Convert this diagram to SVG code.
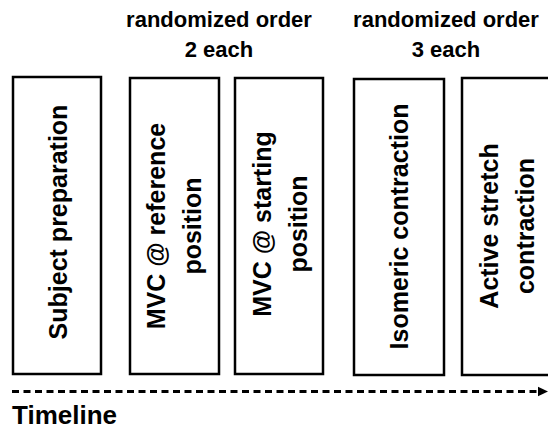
<svg xmlns="http://www.w3.org/2000/svg" width="548" height="429" viewBox="0 0 548 429">
  <style>
    .box { fill: #ffffff; stroke: #000000; stroke-width: 2.5; }
    .lbl { font-family: "Liberation Sans", Arial, sans-serif; font-weight: bold; font-size: 25px; fill: #000000; text-anchor: middle; }
    .hdr { font-family: "Liberation Sans", Arial, sans-serif; font-weight: bold; font-size: 22px; fill: #000000; text-anchor: middle; }
    .tl { font-family: "Liberation Sans", Arial, sans-serif; font-weight: bold; font-size: 26px; fill: #000000; }
    .dash { stroke: #000000; stroke-width: 3; stroke-dasharray: 7 4.5; fill: none; }
  </style>
  <defs>
    <marker id="arrow" markerUnits="userSpaceOnUse" markerWidth="12" markerHeight="12" refX="10" refY="5" orient="auto">
      <polygon points="0,0 10,5 0,10" fill="#000000"/>
    </marker>
  </defs>
  <rect width="548" height="429" fill="#ffffff"/>

  <g id="header-1">
    <text class="hdr" x="219" y="27">randomized order</text>
    <text class="hdr" x="219" y="57">2 each</text>
  </g>
  <g id="header-2">
    <text class="hdr" x="446" y="27">randomized order</text>
    <text class="hdr" x="446" y="57">3 each</text>
  </g>

  <g id="subject-preparation">
    <rect class="box" x="13" y="77" width="88" height="297"/>
    <text class="lbl" transform="translate(67,222) rotate(-90)">Subject preparation</text>
  </g>
  <g id="mvc-reference">
    <rect class="box" x="130" y="78" width="89" height="296"/>
    <text class="lbl" transform="translate(165,226) rotate(-90)"><tspan x="0" y="0">MVC @ reference</tspan><tspan x="0" dy="36">position</tspan></text>
  </g>
  <g id="mvc-starting">
    <rect class="box" x="235" y="78" width="88" height="296"/>
    <text class="lbl" transform="translate(271,224) rotate(-90)"><tspan x="0" y="0">MVC @ starting</tspan><tspan x="0" dy="36">position</tspan></text>
  </g>
  <g id="isomeric-contraction">
    <rect class="box" x="354" y="79" width="90" height="296"/>
    <text class="lbl" transform="translate(408,226.5) rotate(-90)">Isomeric contraction</text>
  </g>
  <g id="active-stretch-contraction">
    <rect class="box" x="462" y="78" width="100" height="297"/>
    <text class="lbl" transform="translate(498,226) rotate(-90)"><tspan x="0" y="0">Active stretch</tspan><tspan x="0" dy="36">contraction</tspan></text>
  </g>

  <g id="connectors">
    <line class="dash" x1="12" y1="391.5" x2="538" y2="391.5"/>
    <polygon points="538,386.8 548,391.5 538,396.2" fill="#000000"/>
  </g>

  <g id="timeline-label">
    <text class="tl" x="12" y="424">Timeline</text>
  </g>
</svg>
